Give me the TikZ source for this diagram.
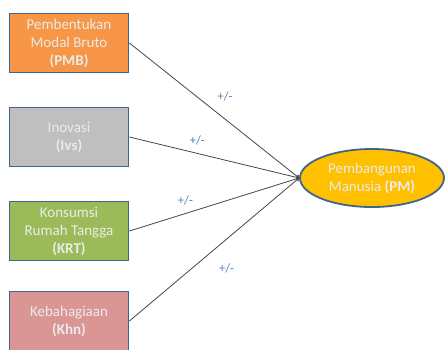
\documentclass[tikz,border=0pt]{standalone}
\usepackage{fontspec}
\setmainfont{Carlito}
\usepackage{tikz}
\usetikzlibrary{shapes,positioning}
\definecolor{rimblue}{HTML}{41648F}
\definecolor{pmborange}{HTML}{F79646}
\definecolor{ivsgray}{HTML}{BFBFBF}
\definecolor{krtgreen}{HTML}{9BBB59}
\definecolor{khnrose}{HTML}{D99694}
\definecolor{pmgold}{HTML}{FFC000}
\definecolor{signblue}{HTML}{4F81BD}

\begin{document}
\begin{tikzpicture}[x=1pt, y=-1pt,
    varbox/.style={draw=rimblue, line width=1.8pt, minimum width=119pt, minimum height=59pt,
        text=white!92!black, align=center, font=\fontsize{15}{18}\selectfont},
    sign/.style={text=signblue, font=\fontsize{12.5}{14}\selectfont, inner sep=1pt}]
         \useasboundingbox (0, 0) rectangle (446, 349);
         \node [varbox, fill=pmborange] (PMB) at (69, 43) {Pembentukan\\Modal Bruto\\\textbf{(PMB)}};
         \node [varbox, fill=ivsgray] (IVS) at (69, 137) {Inovasi\\\textbf{(Ivs)}};
         \node [varbox, fill=krtgreen] (KRT) at (69, 231) {Konsumsi\\Rumah Tangga\\\textbf{(KRT)}};
         \node [varbox, fill=khnrose] (KHN) at (69, 321) {Kebahagiaan\\\textbf{(Khn)}};
         \node [ellipse, draw=rimblue, line width=1.8pt, fill=pmgold, minimum width=144pt, minimum height=58pt,
             inner sep=0pt, text=white!92!black, align=center, font=\fontsize{15}{18}\selectfont]
             (PM) at (372, 178) {Pembangunan\\Manusia \textbf{(PM)}};
         \draw [->, line width=0.8pt, gray!55!black] (PMB.east) -- node [sign, pos=0.5, above right=8pt and 2pt] {+/-} (PM.west);
         \draw [->, line width=0.8pt, gray!55!black] (IVS.east) -- node [sign, pos=0.4, above=7pt] {+/-} (PM.west);
         \draw [->, line width=0.8pt, gray!55!black] (KRT.east) -- node [sign, pos=0.33, above=7pt] {+/-} (PM.west);
         \draw [->, line width=0.8pt, gray!55!black] (KHN.east) -- node [sign, pos=0.52, below right=16pt and 0pt] {+/-} (PM.west);
\end{tikzpicture}
\end{document}
